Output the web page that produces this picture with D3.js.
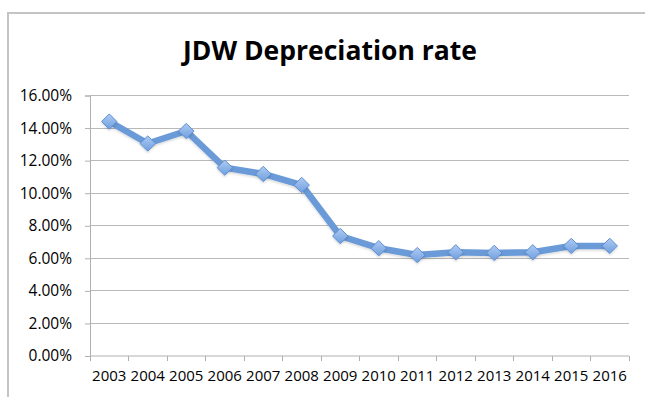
<!DOCTYPE html>
<html><head><meta charset="utf-8">
<script src="https://cdn.jsdelivr.net/npm/d3@7"></script>
<style>body{margin:0;background:#fff;} svg{display:block;}</style>
</head><body>
<svg id="c" width="645" height="397"></svg>
<script>
const years = ["2003","2004","2005","2006","2007","2008","2009","2010","2011","2012","2013","2014","2015","2016"];
const rates = [14.40, 13.05, 13.82, 11.57, 11.18, 10.50, 7.37, 6.62, 6.20, 6.37, 6.33, 6.37, 6.76, 6.76];
const yTicks = [0, 2, 4, 6, 8, 10, 12, 14, 16];
const title = "JDW Depreciation rate";

const svg = d3.select("#c");
const m = {l: 90, r: 629, t: 95.5, b: 356};
const x = d3.scaleBand().domain(years).range([m.l, m.r]);
const y = d3.scaleLinear().domain([0, 16]).range([m.b, m.t]);
const font = "'Open Sans', sans-serif";

// outer frame
svg.append("path").attr("d", "M8,397 L8,13 L645,13").attr("fill","none").attr("stroke","#c4c4c4").attr("stroke-width",2);

// title
svg.append("text").attr("x", 330).attr("y", 60).attr("text-anchor","middle")
  .attr("font-family", font).attr("font-weight","bold").attr("font-size", 26.5).attr("fill","#000").text(title);

// gridlines
svg.append("g").selectAll("line").data(yTicks.filter(d=>d>0)).join("line")
  .attr("x1", m.l).attr("x2", m.r).attr("y1", d=>y(d)).attr("y2", d=>y(d))
  .attr("stroke","#b9b9b9").attr("stroke-width",1).attr("shape-rendering","crispEdges");

// y axis
const yAxis = d3.axisLeft(y).tickValues(yTicks).tickSize(5).tickPadding(13).tickFormat(d => d.toFixed(2) + "%");
const gy = svg.append("g").attr("transform", `translate(${m.l},0)`).call(yAxis);
gy.select(".domain").attr("stroke","#b0b0b0");
gy.selectAll(".tick line").attr("stroke","#b0b0b0");
gy.selectAll("text").attr("font-family", font).attr("font-size", 15.5).attr("fill","#000");

// x axis
const xAxis = d3.axisBottom(x).tickSize(0).tickPadding(14);
const gx = svg.append("g").attr("transform", `translate(0,${m.b})`).call(xAxis);
gx.select(".domain").attr("stroke","#b0b0b0").attr("d", `M${m.l},0H${m.r}`);
gx.selectAll("text").attr("font-family", font).attr("font-size", 15).attr("fill","#000");
// boundary ticks
const bounds = years.map(d => x(d)).concat([x(years[years.length-1]) + x.bandwidth()]);
svg.append("g").selectAll("line").data(bounds).join("line")
  .attr("x1", d=>d).attr("x2", d=>d).attr("y1", m.b).attr("y2", m.b+5)
  .attr("stroke","#b0b0b0").attr("shape-rendering","crispEdges");

// gradient for markers
const defs = svg.append("defs");
const grad = defs.append("linearGradient").attr("id","mg").attr("x1","0").attr("y1","0").attr("x2","0").attr("y2","1");
grad.append("stop").attr("offset","0%").attr("stop-color","#aecbf2");
grad.append("stop").attr("offset","100%").attr("stop-color","#6f9fe0");
const sh = defs.append("filter").attr("id","sh").attr("x","-50%").attr("y","-50%").attr("width","200%").attr("height","200%");
sh.append("feDropShadow").attr("dx",0).attr("dy",1.5).attr("stdDeviation",1.2).attr("flood-color","#000").attr("flood-opacity",0.15);

const cx = d => x(d) + x.bandwidth()/2;
const line = d3.line().x((d,i)=>cx(years[i])).y(d=>y(d));
svg.append("path").datum(rates).attr("d", line).attr("fill","none")
  .attr("stroke","#6a9ad7").attr("stroke-width",6.5).attr("stroke-linejoin","round").attr("filter","url(#sh)");

const sym = d3.symbol().type(d3.symbolDiamond2).size(150);
svg.append("g").selectAll("path").data(rates).join("path")
  .attr("transform", (d,i)=>`translate(${cx(years[i])},${y(d)})`)
  .attr("d", sym).attr("fill","url(#mg)").attr("stroke","#5f8fd2").attr("stroke-width",1).attr("filter","url(#sh)");
</script>
</body></html>
